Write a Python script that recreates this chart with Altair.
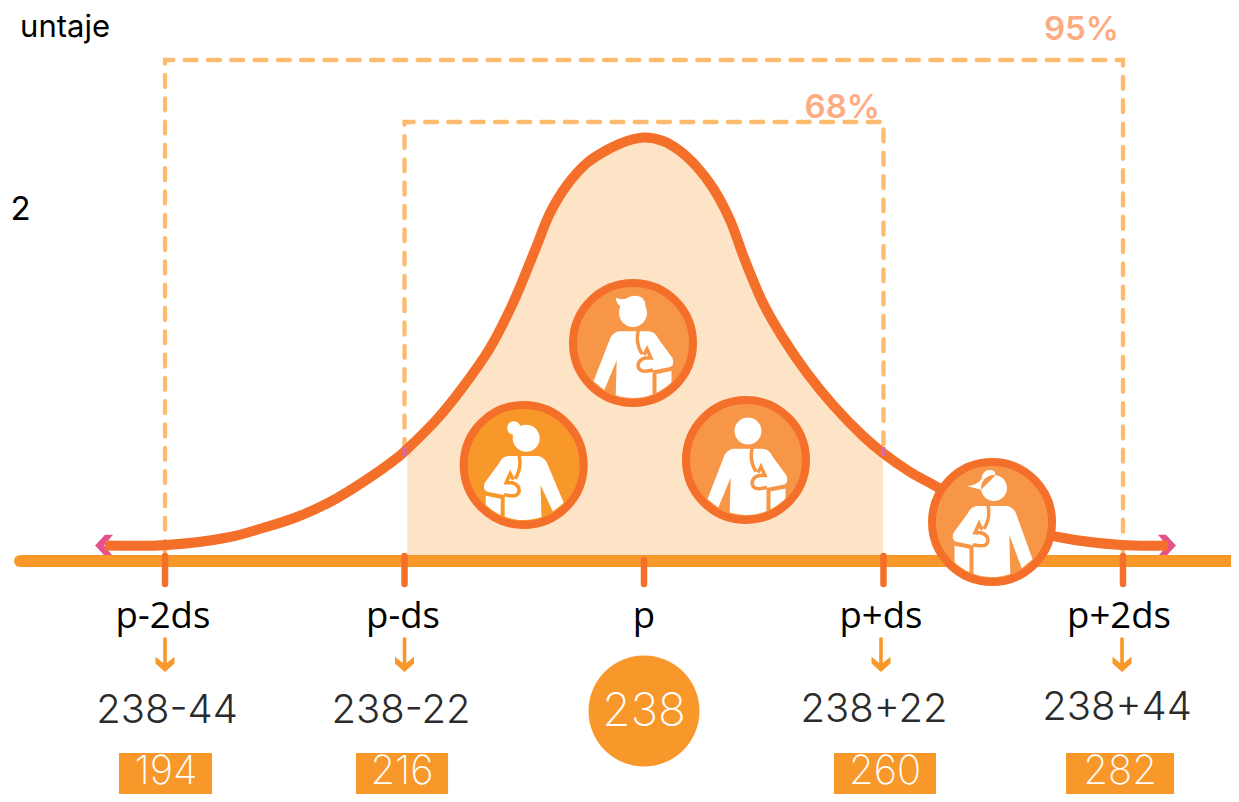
import math
import altair as alt
import pandas as pd

# ---------- data ----------
curve_score = [188.49,194.18,199.97,203.0,206.12,209.16,212.19,215.31,216.05,219.08,221.37,223.85,225.97,227.99,229.37,230.93,232.76,234.60,236.44,238.09,
               239.75,241.31,242.87,244.34,245.90,247.09,247.74,248.93,250.77,252.97,255.36,258.12,259.95,262.44,264.92,266.84,269.88,273.0,276.03,281.91,286.14]
curve_height = [15.5,16,24,33,44,59,79,103,110,143,174,213,258,311,348,376,398,411,420,423.5,
                420,410,394,373,341,306,288,258,223,188,156,125,108,89,74,60,44,33,24,16,15.5]
tick_scores = [194,216,238,260,282]
tick_top = [5,5,1,5,5]
tick_bottom = [-23,-23,-23,-23,-23]
symbol_labels = ["p-2ds","p-ds","p","p+ds","p+2ds"]
symbol_x = [193.81,215.86,238,259.77,281.63]
calc_labels = ["238-44","238-22","238+22","238+44"]
calc_x = [194.18,215.68,259.13,281.45]
calc_y = [-162,-162,-161,-159]
result_labels = ["194","216","260","282"]
result_x = [194.09,215.77,260.14,281.73]
box_left = [189.77,211.54,255.45,276.77]
box_right = [198.32,220.0,264.82,286.69]
arrow_x = [194,216,259.77,281.91]
person_x = [236.99,226.95,247.37,269.97]
person_h = [218,96,101,39]
person_fill = ["#f79646","#f9982a","#f79646","#f79646"]
box95_x = [194,194,282,282]
box95_h = [8,501,501,8]
box68_x = [216,216,260,260]
box68_h = [110,439,439,110]

ORANGE = "#f9982a"
DEEP = "#f46f29"
XS = alt.Scale(domain=[179.576,291.922], nice=False, zero=False)
YS = alt.Scale(domain=[-233,553], nice=False, zero=False)
def X(f="x"): return alt.X(f"{f}:Q", scale=XS, axis=None)
def Y(f="y"): return alt.Y(f"{f}:Q", scale=YS, axis=None)

# ---------- figure glyphs (local pixel units around the circle centre) ----------
def fig(mirror=False, dy=0.0, dx=0.0, hair="none", head=(0,-30,14)):
    s = -1 if mirror else 1
    R = 55.0
    def P(x, y): return f"{s*x+dx:.1f},{y+dy:.1f}"
    def C(x):
        y = math.sqrt(R*R-(s*x+dx)**2)
        return f"{s*x+dx:.1f},{y:.1f}"
    sw = 0 if mirror else 1
    body = (f"M{C(-39.5)}L{P(-22.3,-6)}Q{P(-18,-11.7)} {P(-13,-11.7)}L{P(15,-11.7)}Q{P(22,-11.7)} {P(25.3,-4.3)}"
            f"L{P(39.3,14.7)}Q{P(42,22)} {P(37,24)}L{P(19.5,27.5)}L{C(19.5)}A{R} {R} 0 0 {sw} {C(-17.3)}L{P(-16.3,17.3)}L{C(-28.7)}Z")
    bag = f"M{P(23.5,31)}L{P(38.5,28)}L{C(38.5)}A{R} {R} 0 0 {sw} {C(23.5)}Z"
    hx, hy, hr = head
    def circ(cx, cy, r):
        a = f"{s*cx+dx-s*r:.1f},{cy+dy:.1f}"
        b = f"{s*cx+dx+s*r:.1f},{cy+dy:.1f}"
        return f"M{a}A{r} {r} 0 1 {sw} {b}A{r} {r} 0 1 {sw} {a}Z"
    h = circ(hx, hy, hr)
    if hair == "quiff":
        h += (f"M{P(-17.3,-45.3)}Q{P(-10,-42)} {P(-4,-46)}Q{P(8,-50)} {P(12,-41)}L{P(13.5,-30)}L{P(-13,-30)}"
              f"L{P(-13,-37)}Q{P(-17,-40)} {P(-17.3,-45.3)}Z")
    elif hair == "bun":
        h += circ(10.3, -39.7, 6.7)
    elif hair == "tail":
        h += (f"M{P(25.7,-31.5)}Q{P(16,-33)} {P(12,-38)}Q{P(10,-49)} {P(2.3,-47.5)}Q{P(-3,-48)} {P(-2,-42)}"
              f"L{P(12,-28)}Q{P(18,-30)} {P(25.7,-31.5)}Z")
    strap = (f"M{P(5.3,-13)}Q{P(2,0)} {P(9,11)}M{P(11,12)}L{P(14,6)}L{P(18,15)}L{P(12,15)}"
             f"Q{P(5,17)} {P(5,23)}Q{P(6,29)} {P(14,28)}L{P(20,27)}")
    return body + bag + h, strap

figs = [
    fig(hair="quiff", head=(0,-30,14)),
    fig(mirror=True, dy=2.7, dx=0.5, hair="bun", head=(-2,-29.4,13.5)),
    fig(dy=0.5, dx=1.0, head=(1,-29.5,13.5)),
    fig(mirror=True, dy=-4.3, dx=1.0, hair="tail", head=(-1,-29.7,13)),
]

left_chev = "M-9,0L1,-10.7L9,-10.7L0,0L9,10.7L1,10.7Z"
right_chev = "M10,0L0,-10.7L-8,-10.7L1,0L-8,10.7L0,10.7Z"
arrow = "M-1.8,-17Q0,-18.5 1.8,-17L1.8,8L9.5,1.7L9.5,8.5L0,17L-9.5,8.5L-9.5,1.7L-1.8,8Z"

# ---------- layers ----------
cdf = pd.DataFrame({"x":curve_score,"y":curve_height,"i":range(len(curve_score))})
area_df = cdf[(cdf.x>=216)&(cdf.x<=260)].copy()
area_df["x"] = area_df["x"].clip(216.25,260.2)
area_df["y0"] = 0
area = alt.Chart(area_df).mark_area(color="#fde4c6", interpolate="catmull-rom").encode(x=X(), y=Y(), y2=alt.Y2("y0:Q"))

box_df = pd.concat([
    pd.DataFrame({"x":box95_x,"y":box95_h,"b":"95","o":range(4)}),
    pd.DataFrame({"x":box68_x,"y":box68_h,"b":"68","o":range(4)}),
])
boxes = alt.Chart(box_df).mark_line(color="#fdbb6f", strokeWidth=4.3, strokeDash=[12,11.3], strokeCap="round").encode(
    x=X(), y=Y(), detail="b:N", order="o:Q")

pink_df = pd.DataFrame({"x":[216,260],"y":[105,105],"y2":[114,114]})
pink = alt.Chart(pink_df).mark_rule(color="#d968a8", strokeWidth=4).encode(x=X(), y=Y(), y2="y2:Q")

chev_l = alt.Chart(pd.DataFrame({"x":[188.4],"y":[15.5]})).mark_point(shape=left_chev, size=4, filled=True, color="#e5518b", opacity=1).encode(x=X(), y=Y())
chev_r = alt.Chart(pd.DataFrame({"x":[285.95],"y":[15.5]})).mark_point(shape=right_chev, size=4, filled=True, color="#e5518b", opacity=1).encode(x=X(), y=Y())

axis_line = alt.Chart(pd.DataFrame({"x":[180.68],"x2":[293],"y":[0]})).mark_rule(color=ORANGE, strokeWidth=12, strokeCap="round").encode(x=X(), x2="x2:Q", y=Y())

ticks = alt.Chart(pd.DataFrame({"x":tick_scores,"y":tick_top,"y2":tick_bottom})).mark_rule(color=DEEP, strokeWidth=6.5, strokeCap="round").encode(x=X(), y=Y(), y2="y2:Q")

curve = alt.Chart(cdf).mark_line(color=DEEP, strokeWidth=10, interpolate="catmull-rom", strokeCap="butt").encode(x=X(), y=Y(), order="i:Q")

layers = [area, boxes, chev_l, chev_r, axis_line, ticks, curve, pink]

for i in range(4):
    d = pd.DataFrame({"x":[person_x[i]],"y":[person_h[i]]})
    layers.append(alt.Chart(d).mark_point(shape="circle", size=14400, filled=True, fill=person_fill[i], stroke=DEEP, strokeWidth=8, opacity=1).encode(x=X(), y=Y()))
    layers.append(alt.Chart(d).mark_point(shape=figs[i][0], size=4, filled=True, color="white", fill="white", strokeWidth=0, opacity=1).encode(x=X(), y=Y()))
    layers.append(alt.Chart(d).mark_point(shape=figs[i][1], size=4, filled=False, stroke=person_fill[i], strokeWidth=3.5, opacity=1).encode(x=X(), y=Y()))

arrows = alt.Chart(pd.DataFrame({"x":arrow_x,"y":[-94]*4})).mark_point(shape=arrow, size=4, filled=True, color=ORANGE, opacity=1).encode(x=X(), y=Y())
layers.append(arrows)

boxes_r = alt.Chart(pd.DataFrame({"x":box_left,"x2":box_right,"y":[-192]*4,"y2":[-233]*4})).mark_rect(color=ORANGE).encode(x=X(), x2="x2:Q", y=Y(), y2="y2:Q")
disc = alt.Chart(pd.DataFrame({"x":[238],"y":[-150]})).mark_point(shape="circle", size=12321, filled=True, color=ORANGE, opacity=1).encode(x=X(), y=Y())
layers += [boxes_r, disc]

def texts(xs, ys, labels, **kw):
    return alt.Chart(pd.DataFrame({"x":xs,"y":ys,"t":labels})).mark_text(baseline="alphabetic", **kw).encode(x=X(), y=Y(), text="t:N")

layers += [
    texts(symbol_x, [-67]*5, symbol_labels, font="Open Sans", fontSize=36.5, color="black", align="center"),
    texts(calc_x, calc_y, calc_labels, font="Inter", fontSize=40, fontWeight=300, color="#2b2b2b", align="center"),
    texts(result_x, [-223]*4, result_labels, font="Inter", fontSize=40, fontWeight=200, color="white", align="center"),
    texts([238], [-165], ["238"], font="Inter", fontSize=46, fontWeight=200, color="white", align="center"),
    texts([281.63], [521], ["95%"], font="Inter", fontSize=33, fontWeight=600, color="#fbac82", align="right"),
    texts([259.68], [443], ["68%"], font="Inter", fontSize=33, fontWeight=600, color="#fbac82", align="right"),
    texts([188.95], [524], ["untaje"], font="Inter", fontSize=31, color="black", align="right"),
    texts([179.8], [341], ["2"], font="Inter", fontSize=33, color="black", align="left"),
]

chart = alt.layer(*layers).properties(width=1223, height=786, padding=0, autosize=alt.AutoSizeParams(type="none"), background="white").configure_view(stroke=None)
chart.save("out.html", embed_options={"renderer": "svg", "actions": False})
